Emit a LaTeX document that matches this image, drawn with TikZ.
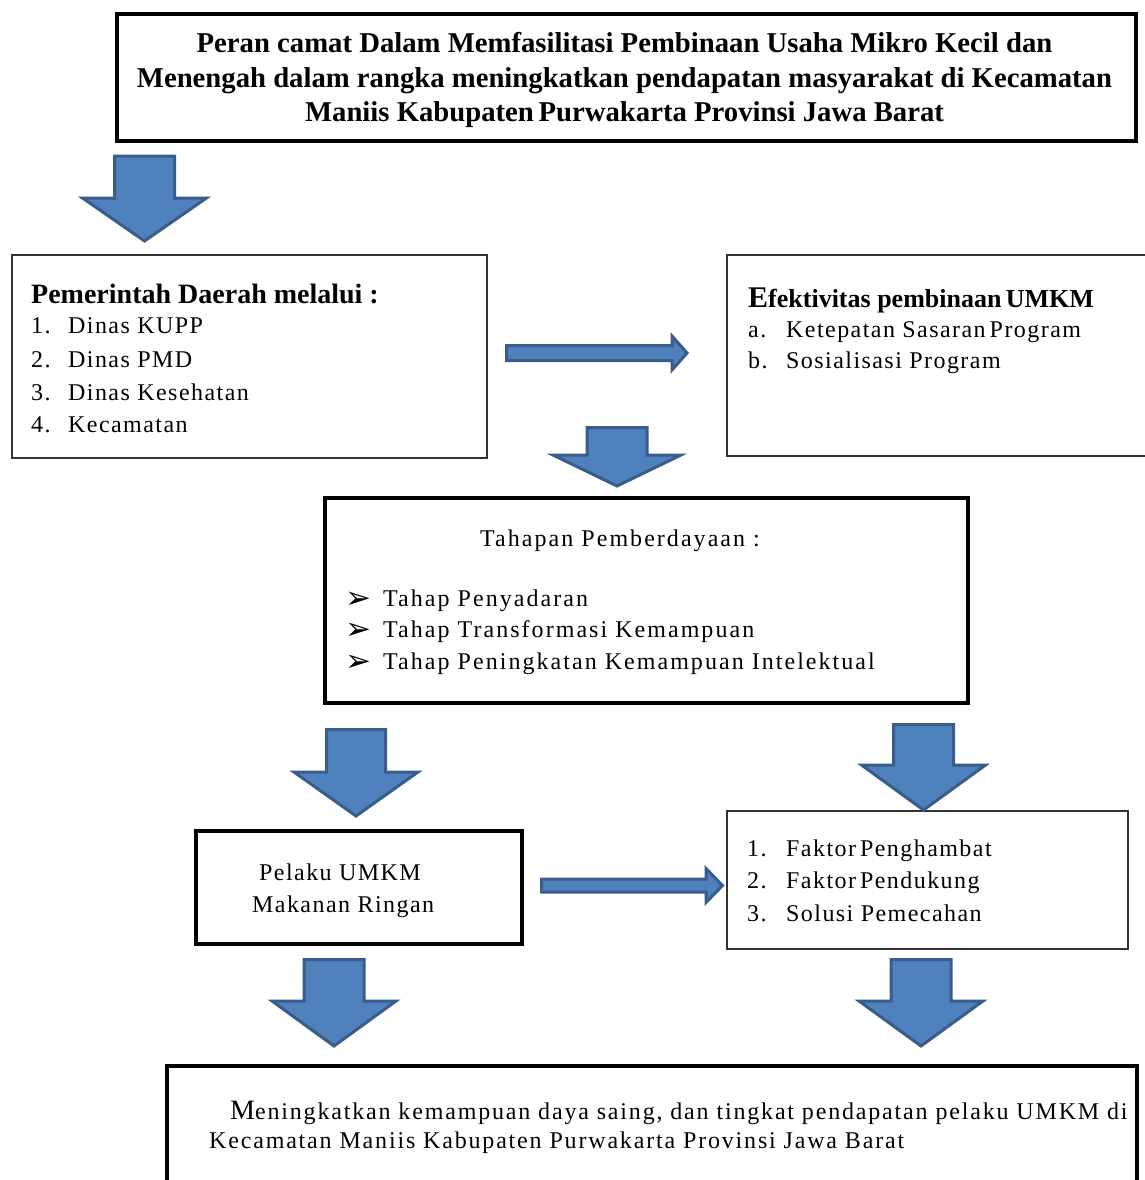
\documentclass[tikz,border=0pt]{standalone}
\usepackage{fontspec}
\setmainfont{Liberation Serif}
\newfontfamily\wordfont{Liberation Serif}[LetterSpace=6]
\newfontfamily\midfont{Liberation Serif}[LetterSpace=8.5]
\newfontfamily\lowfont{Liberation Serif}[LetterSpace=7.6]
\newfontfamily\dingfont{DejaVu Sans}
\definecolor{arrowfill}{HTML}{4F81BD}
\definecolor{arrowline}{HTML}{385D8A}
\newcommand{\dblock}[6]{% cx, top, shaft half, head half, head y, tip y
  \draw[blockarrow] ({#1-#3},{#2}) -- ({#1+#3},{#2}) -- ({#1+#3},{#5}) -- ({#1+#4},{#5})
    -- ({#1},{#6}) -- ({#1-#4},{#5}) -- ({#1-#3},{#5}) -- cycle;}
\newcommand{\rblock}[6]{% left x, cy, shaft half, head x, head half, tip x
  \draw[blockarrow] ({#1},{#2-#3}) -- ({#4},{#2-#3}) -- ({#4},{#2-#5}) -- ({#6},{#2})
    -- ({#4},{#2+#5}) -- ({#4},{#2+#3}) -- ({#1},{#2+#3}) -- cycle;}
\tikzset{
  thickbox/.style={draw=black, line width=4pt, anchor=north west, inner sep=0},
  thinbox/.style={draw=black!80, line width=1.5pt, anchor=north west, inner sep=0},
  blockarrow/.style={fill=arrowfill, draw=arrowline, line width=3pt, line join=miter},
  body/.style={font=\wordfont\fontsize{24}{28}\selectfont, anchor=base west, inner sep=0},
  midtxt/.style={font=\midfont\fontsize{24}{28}\selectfont, anchor=base west, inner sep=0},
  lowtxt/.style={font=\lowfont\fontsize{24}{28}\selectfont, anchor=base west, inner sep=0},
  headtxt/.style={font=\bfseries\fontsize{28}{32}\selectfont, anchor=base west, inner sep=0},
  titletxt/.style={font=\bfseries\fontsize{28.7}{32}\selectfont, anchor=base, inner sep=0},
  bullet/.style={font=\dingfont\fontsize{31}{34}\selectfont, anchor=base west, inner sep=0},
}
\begin{document}
\begin{tikzpicture}[x=1pt,y=-1pt]
\useasboundingbox (0,0) rectangle (1145,1180);
\clip (0,0) rectangle (1145,1180);

% boxes
\node[thickbox, minimum width=1019pt, minimum height=127pt] (title) at (115,12) {};
\node[thinbox, minimum width=475pt, minimum height=203pt] (gov) at (11,254) {};
\node[thinbox, minimum width=440pt, minimum height=201pt] (eff) at (726,254) {};
\node[thickbox, minimum width=643pt, minimum height=205pt] (tahap) at (323,496) {};
\node[thickbox, minimum width=326pt, minimum height=113pt] (pelaku) at (194,829) {};
\node[thinbox, minimum width=401pt, minimum height=138pt] (faktor) at (726,810) {};

% title text
\node[titletxt] (t1) at (624.5,53) {Peran camat Dalam Memfasilitasi Pembinaan Usaha Mikro Kecil dan};
\node[titletxt] (t2) at (624.5,88) {Menengah dalam rangka meningkatkan pendapatan masyarakat di Kecamatan};
\node[titletxt] (t3) at (624.5,122) {Maniis Kabupaten\,Purwakarta Provinsi Jawa Barat};

% left box text
\node[headtxt] (govh) at (31,303) {Pemerintah Daerah melalui :};
\node[body] (g1n) at (31,333) {1.};
\node[body] (g1) at (68,333) {Dinas KUPP};
\node[body] (g2n) at (31,367) {2.};
\node[body] (g2) at (68,367) {Dinas PMD};
\node[body] (g3n) at (31,400) {3.};
\node[body] (g3) at (68,400) {Dinas Kesehatan};
\node[body] (g4n) at (31,432) {4.};
\node[body] (g4) at (68,432) {Kecamatan};

% right box 1 text
\node[headtxt, font=\bfseries\fontsize{26}{30}\selectfont] (effh) at (748,307) {{\fontsize{30}{30}\selectfont E}fektivitas pembinaan\,UMKM};
\node[body] (e1n) at (748,337) {a.};
\node[body] (e1) at (786,337) {Ketepatan Sasaran\,Program};
\node[body] (e2n) at (748,368) {b.};
\node[body] (e2) at (786,368) {Sosialisasi Program};

% middle box text
\node[midtxt] (tah) at (480,546) {Tahapan Pemberdayaan :};
\node[bullet] (b1) at (345,608) {➢};
\node[midtxt] (s1) at (383,606) {Tahap Penyadaran};
\node[bullet] (b2) at (345,639) {➢};
\node[midtxt] (s2) at (383,637) {Tahap Transformasi Kemampuan};
\node[bullet] (b3) at (345,671) {➢};
\node[midtxt] (s3) at (383,669) {Tahap Peningkatan Kemampuan Intelektual};

% pelaku text
\node[body] (p1) at (259,880) {Pelaku UMKM};
\node[body] (p2) at (252,912) {Makanan Ringan};

% faktor text
\node[body] (f1n) at (747,856) {1.};
\node[body] (f1) at (786,856) {Faktor\,Penghambat};
\node[body] (f2n) at (747,888) {2.};
\node[body] (f2) at (786,888) {Faktor\,Pendukung};
\node[body] (f3n) at (747,921) {3.};
\node[body] (f3) at (786,921) {Solusi Pemecahan};

% bottom text and box
\node[lowtxt] (r1) at (230,1119) {{\fontsize{28}{28}\selectfont M}eningkatkan kemampuan daya saing, dan tingkat pendapatan pelaku UMKM di};
\node[lowtxt] (r2) at (209,1148) {Kecamatan Maniis Kabupaten Purwakarta Provinsi Jawa Barat};
\node[thickbox, minimum width=969.5pt, minimum height=200pt] (result) at (165,1064) {};

% block arrows
\dblock{144.5}{156}{30}{62}{198}{241}
\rblock{506.5}{353}{7.5}{672}{17}{687}
\dblock{617}{427.5}{30}{64}{455}{486}
\dblock{356}{729.5}{29.5}{62}{772}{816}
\dblock{923.5}{724.5}{30}{62}{765}{810}
\rblock{541.5}{885.5}{6.5}{706}{17}{722.5}
\dblock{334}{959.5}{30}{62}{1001}{1046}
\dblock{921}{959.5}{30}{62}{1001}{1046}
\end{tikzpicture}
\end{document}
